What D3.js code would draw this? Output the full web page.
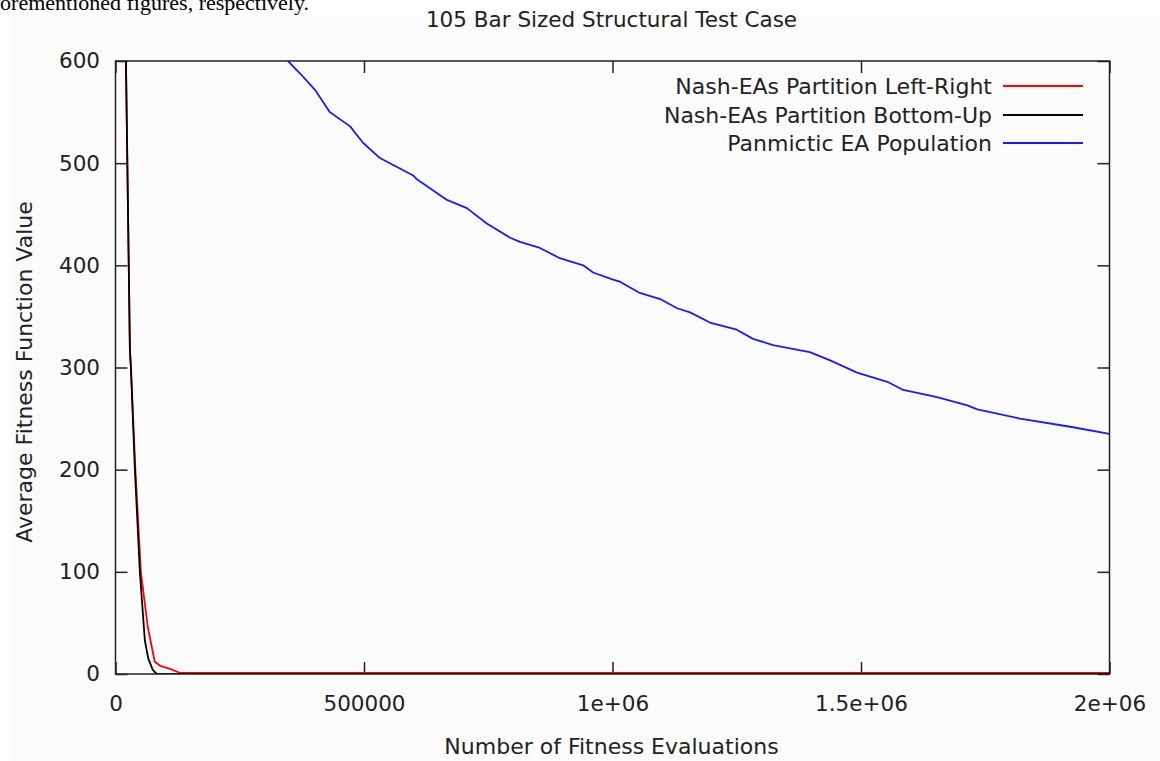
<!DOCTYPE html>
<html>
<head>
<meta charset="utf-8">
<script src="https://cdn.jsdelivr.net/npm/d3@7"></script>
<style>
  html, body { margin: 0; padding: 0; background: #ffffff; overflow: hidden; }
  svg { display: block; }
</style>
</head>
<body>
<svg id="chart" width="1160" height="761"></svg>
<script>
// ---- data ----
const titleText = "105 Bar Sized Structural Test Case";
const xLabel = "Number of Fitness Evaluations";
const yLabel = "Average Fitness Function Value";
const seriesNames = ["Nash-EAs Partition Left-Right", "Nash-EAs Partition Bottom-Up", "Panmictic EA Population"];
const seriesColors = ["#ff0000", "#000000", "#1a1aff"];

const xTickValues = [0, 500000, 1000000, 1500000, 2000000];
const xTickLabels = ["0", "500000", "1e+06", "1.5e+06", "2e+06"];
const yTickValues = [0, 100, 200, 300, 400, 500, 600];
const yTickLabels = ["0", "100", "200", "300", "400", "500", "600"];

const leftRightX = [10000, 21000, 29000, 31000, 40000, 51000, 65000, 79000, 90000, 110000, 130000, 2000000];
const leftRightY = [1500, 600, 317, 300, 200, 100, 46, 12, 8, 5, 1, 1];

const bottomUpX = [10000, 21000, 29000, 31000, 39000, 49000, 59000, 66000, 75000, 83000, 2000000];
const bottomUpY = [1500, 600, 317, 300, 200, 100, 33, 15, 4, 0, 0];

const panmicticX = [330000, 347000, 371000, 401000, 431000, 472000, 498000, 532000, 599000, 607000, 667000, 707000, 747000, 794000, 814000, 854000, 894000, 941000, 961000, 1001000, 1015000, 1055000, 1096000, 1130000, 1156000, 1196000, 1250000, 1283000, 1323000, 1397000, 1438000, 1492000, 1553000, 1585000, 1653000, 1714000, 1734000, 1820000, 1921000, 2000000];
const panmicticY = [620, 600, 588, 572, 550, 536, 520, 505, 488, 484, 464, 456, 441, 427, 423, 417, 407, 400, 393, 386, 384, 373, 367, 358, 354, 344, 337, 328, 322, 315, 307, 295, 286, 278, 271, 263, 259, 250, 242, 235];

const docText = "aforementioned figures, respectively.";

// ---- layout ----
const svg = d3.select("#chart");
const L = 115.5, R = 1109.5, T = 61, B = 674;
const fontFam = "'DejaVu Sans', sans-serif";
const ink = "#222";

// document fragment text above
svg.append("text").attr("x", -17).attr("y", 10)
  .attr("font-family", "'Liberation Serif', 'Times New Roman', serif")
  .attr("font-size", 22).attr("fill", "#000").text(docText);

// image background
svg.append("rect").attr("x", 11).attr("y", 15).attr("width", 1149).attr("height", 746).attr("fill", "#fbfbfb");

const x = d3.scaleLinear().domain([0, 2000000]).range([L, R]);
const y = d3.scaleLinear().domain([0, 600]).range([B, T]);

// axes
const gx = svg.append("g").attr("transform", `translate(0,${B})`)
  .call(d3.axisBottom(x).tickValues(xTickValues).tickFormat((d, i) => xTickLabels[i]).tickSizeInner(-12).tickSizeOuter(0).tickPadding(0));
const gxt = svg.append("g").attr("transform", `translate(0,${T})`)
  .call(d3.axisTop(x).tickValues(xTickValues).tickFormat("").tickSizeInner(-12).tickSizeOuter(0));
const gy = svg.append("g").attr("transform", `translate(${L},0)`)
  .call(d3.axisLeft(y).tickValues(yTickValues).tickFormat((d, i) => yTickLabels[i]).tickSizeInner(-12).tickSizeOuter(0).tickPadding(15.5));
const gyr = svg.append("g").attr("transform", `translate(${R},0)`)
  .call(d3.axisRight(y).tickValues(yTickValues).tickFormat("").tickSizeInner(-12).tickSizeOuter(0));

[gx, gxt, gy, gyr].forEach(g => {
  g.select(".domain").remove();
  g.selectAll(".tick line").attr("stroke", ink).attr("stroke-width", 1.5);
  g.selectAll("text").attr("font-family", fontFam).attr("font-size", 21.5).attr("fill", ink);
});
gx.selectAll(".tick text").attr("y", 37).attr("dy", 0);

// lines
const clip = svg.append("clipPath").attr("id", "plotclip");
clip.append("rect").attr("x", L).attr("y", T).attr("width", R - L).attr("height", B - T);

const line = d3.line().x(d => x(d[0])).y(d => y(d[1]));
const series = [
  leftRightX.map((v, i) => [v, leftRightY[i]]),
  bottomUpX.map((v, i) => [v, bottomUpY[i]]),
  panmicticX.map((v, i) => [v, panmicticY[i]])
];
const plot = svg.append("g").attr("clip-path", "url(#plotclip)");
series.forEach((s, i) => {
  plot.append("path").datum(s).attr("d", line).attr("fill", "none")
    .attr("stroke", seriesColors[i]).attr("stroke-width", 1.8).attr("stroke-linejoin", "round");
});

// border
svg.append("rect").attr("x", L).attr("y", T).attr("width", R - L).attr("height", B - T)
  .attr("fill", "none").attr("stroke", ink).attr("stroke-width", 1.5);

// legend
const legRows = [86, 115, 143];
seriesNames.forEach((name, i) => {
  svg.append("text").attr("x", 992).attr("y", legRows[i] + 8)
    .attr("text-anchor", "end").attr("font-family", fontFam).attr("font-size", 22).attr("fill", ink).text(name);
  svg.append("line").attr("x1", 1003).attr("x2", 1083).attr("y1", legRows[i]).attr("y2", legRows[i])
    .attr("stroke", seriesColors[i]).attr("stroke-width", 1.8);
});

// title and axis labels
svg.append("text").attr("x", 611.5).attr("y", 27).attr("text-anchor", "middle")
  .attr("font-family", fontFam).attr("font-size", 21.5).attr("fill", ink).text(titleText);
svg.append("text").attr("x", 611.5).attr("y", 754).attr("text-anchor", "middle")
  .attr("font-family", fontFam).attr("font-size", 22).attr("fill", ink).text(xLabel);
svg.append("text").attr("transform", "translate(32,372) rotate(-90)").attr("text-anchor", "middle")
  .attr("font-family", fontFam).attr("font-size", 22).attr("fill", ink).text(yLabel);
</script>
</body>
</html>
